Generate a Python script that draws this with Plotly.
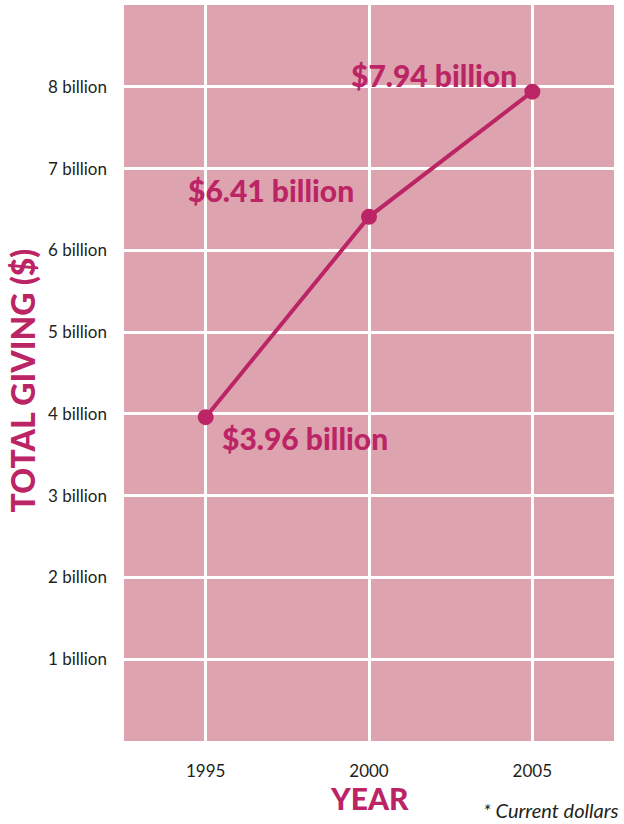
import plotly.graph_objects as go

years = [1995, 2000, 2005]
giving = [3.96, 6.41, 7.94]
labels = ["$3.96 billion", "$6.41 billion", "$7.94 billion"]
ytick_vals = [1, 2, 3, 4, 5, 6, 7, 8]
ytick_text = ["1 billion", "2 billion", "3 billion", "4 billion", "5 billion", "6 billion", "7 billion", "8 billion"]
xtick_vals = [1995, 2000, 2005]

MAG = "#BC2565"
BG = "#DDA3AF"
FONT = "Lato"

fig = go.Figure()
fig.add_trace(go.Scatter(
    x=years, y=giving, mode="lines+markers",
    line=dict(color=MAG, width=4),
    marker=dict(color=MAG, size=16),
    hoverinfo="skip",
))

# label offsets (pixel)
offsets = [(99, -21), (-98, 27), (-98, 17)]
for xv, yv, t, (dx, dy) in zip(years, giving, labels, offsets):
    fig.add_annotation(x=xv, y=yv, text=t, showarrow=False,
                       xshift=dx, yshift=dy,
                       font=dict(family=FONT, size=30, color=MAG, weight=900))

fig.add_annotation(xref="paper", yref="paper", x=-0.208, y=0.49, text="TOTAL GIVING ($)",
                   textangle=-90, showarrow=False, xanchor="center", yanchor="middle",
                   font=dict(family=FONT, size=32, color=MAG, weight=900))
fig.add_annotation(xref="paper", yref="paper", x=0.5, y=-0.077, text="YEAR",
                   showarrow=False, xanchor="center", yanchor="middle",
                   font=dict(family=FONT, size=30, color=MAG, weight=900))
fig.add_annotation(xref="paper", yref="paper", x=1.014, y=-0.094, text="* Current dollars",
                   showarrow=False, xanchor="right", yanchor="middle",
                   font=dict(family=FONT, size=20, color="#231F20", style="italic"))

fig.update_layout(
    width=624, height=824,
    margin=dict(l=124, r=10, t=5, b=83),
    paper_bgcolor="white", plot_bgcolor=BG,
    showlegend=False,
    font=dict(family=FONT, color="#231F20"),
    xaxis=dict(range=[1992.5, 2007.5], tickvals=xtick_vals, ticktext=[str(v) for v in xtick_vals],
               showgrid=True, gridcolor="white", gridwidth=3, zeroline=False,
               ticks="", tickfont=dict(size=17), ticklabelstandoff=18, fixedrange=True),
    yaxis=dict(range=[0, 9], tickvals=ytick_vals, ticktext=ytick_text,
               showgrid=True, gridcolor="white", gridwidth=3, zeroline=False,
               ticks="", tickfont=dict(size=17), ticklabelstandoff=16, fixedrange=True),
)

fig.write_html("out.html", config={"displayModeBar": False},
               post_script="document.body.style.margin='0';")
